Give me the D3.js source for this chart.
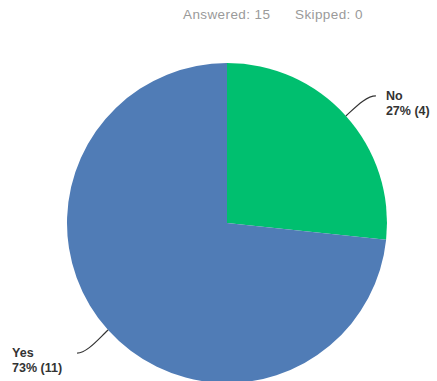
<!DOCTYPE html>
<html>
<head>
<meta charset="utf-8">
<script src="https://cdn.jsdelivr.net/npm/d3@7"></script>
<style>
  body { margin: 0; background: #fff; }
  svg { display: block; font-family: "Liberation Sans", Arial, sans-serif; }
</style>
</head>
<body>
<svg id="chart"></svg>
<script>
const categories = ["No", "Yes"];
const counts = [4, 11];
const percents = ["27%", "73%"];
const colors = ["#00bf6f", "#507cb6"];
const answered = 15;
const skipped = 0;

const width = 437, height = 381;
const cx = 227, cy = 223, radius = 160;

const svg = d3.select("#chart").attr("width", width).attr("height", height);

// header
svg.append("text")
  .attr("x", 183).attr("y", 19)
  .attr("fill", "#9a9a9a")
  .style("font-size", "13.5px")
  .style("letter-spacing", "0.4px")
  .text("Answered: " + answered);
svg.append("text")
  .attr("x", 295).attr("y", 19)
  .attr("fill", "#9a9a9a")
  .style("font-size", "13.5px")
  .style("letter-spacing", "0.4px")
  .text("Skipped: " + skipped);

const data = categories.map((c, i) => ({ name: c, value: counts[i], pct: percents[i], color: colors[i] }));

const pie = d3.pie().sort(null).value(d => d.value);
const arc = d3.arc().innerRadius(0).outerRadius(radius);
const edge = d3.arc().innerRadius(radius).outerRadius(radius);

const g = svg.append("g").attr("transform", `translate(${cx},${cy})`);
const arcs = pie(data);

g.selectAll("path.slice")
  .data(arcs)
  .join("path")
  .attr("class", "slice")
  .attr("d", arc)
  .attr("fill", d => d.data.color);

// leader lines + labels
arcs.forEach(a => {
  const [sx, sy] = edge.centroid(a);
  const right = sx > 0;
  const ex = sx + (right ? 30 : -31);
  const ey = sy + (right ? -20 : 23);
  const len = Math.hypot(sx, sy);
  const ux = sx / len, uy = sy / len;
  const c1x = sx + ux * 12, c1y = sy + uy * 12;
  const c2x = ex - (right ? 10 : -10), c2y = ey;
  g.append("path")
    .attr("d", `M${sx},${sy} C${c1x},${c1y} ${c2x},${c2y} ${ex},${ey}`)
    .attr("fill", "none")
    .attr("stroke", "#333")
    .attr("stroke-width", 1.2);
  const tx = right ? ex + 10 : ex - 65;
  const ty = ey + 4;
  const t = g.append("text")
    .attr("x", tx).attr("y", ty)
    .attr("fill", "#333")
    .style("font-size", "12.5px")
    .style("font-weight", "bold");
  t.append("tspan").attr("x", tx).attr("dy", 0).text(a.data.name);
  t.append("tspan").attr("x", tx).attr("dy", 15).text(`${a.data.pct} (${a.data.value})`);
});
</script>
</body>
</html>
